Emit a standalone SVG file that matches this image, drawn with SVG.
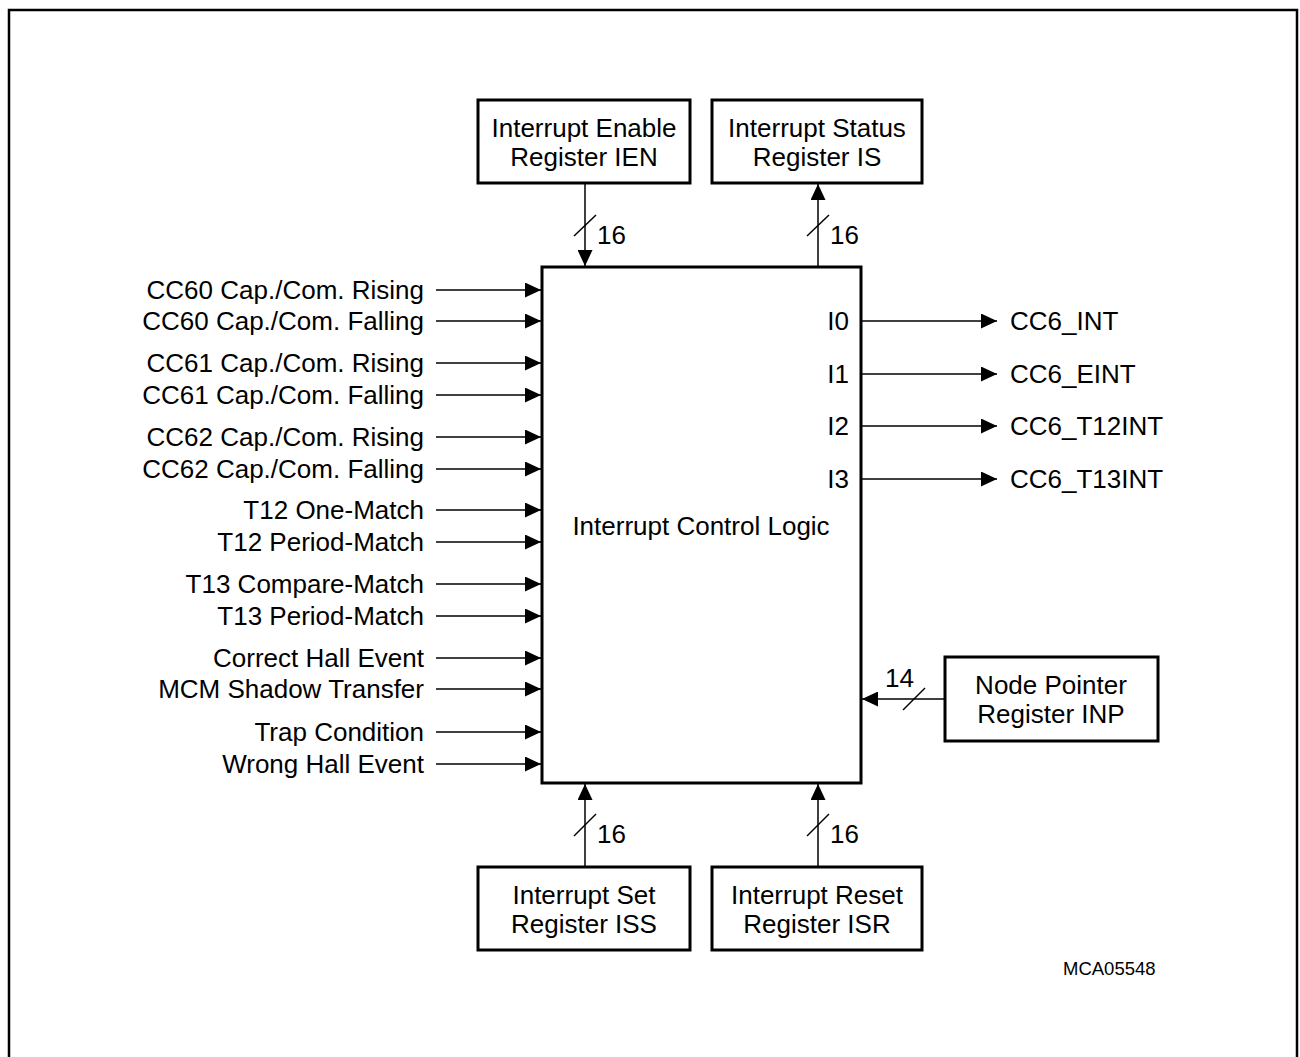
<svg xmlns="http://www.w3.org/2000/svg" width="1300" height="1057" viewBox="0 0 1300 1057">
<defs>
<marker id="ah" viewBox="0 0 16 15" refX="16" refY="7.5" markerWidth="16" markerHeight="15" markerUnits="userSpaceOnUse" orient="auto">
<path d="M0,0 L16,7.5 L0,15 Z" fill="#000"/>
</marker>
<style>
text{font-family:"Liberation Sans",Arial,sans-serif;font-size:26px;fill:#000}
.box{fill:#fff;stroke:#000;stroke-width:3}
.ln{stroke:#000;stroke-width:1.5;fill:none}
.arr{stroke:#000;stroke-width:1.5;fill:none;marker-end:url(#ah)}
.r{text-anchor:end}
.m{text-anchor:middle}
.s{font-size:18.5px}
</style>
</defs>
<rect x="9" y="10" width="1288" height="1060" fill="none" stroke="#000" stroke-width="2.5"/>

<g id="connectors">
<line class="arr" x1="436" y1="290" x2="541" y2="290"/>
<line class="arr" x1="436" y1="321" x2="541" y2="321"/>
<line class="arr" x1="436" y1="363" x2="541" y2="363"/>
<line class="arr" x1="436" y1="395" x2="541" y2="395"/>
<line class="arr" x1="436" y1="437" x2="541" y2="437"/>
<line class="arr" x1="436" y1="469" x2="541" y2="469"/>
<line class="arr" x1="436" y1="510" x2="541" y2="510"/>
<line class="arr" x1="436" y1="542" x2="541" y2="542"/>
<line class="arr" x1="436" y1="584" x2="541" y2="584"/>
<line class="arr" x1="436" y1="616" x2="541" y2="616"/>
<line class="arr" x1="436" y1="658" x2="541" y2="658"/>
<line class="arr" x1="436" y1="689" x2="541" y2="689"/>
<line class="arr" x1="436" y1="732" x2="541" y2="732"/>
<line class="arr" x1="436" y1="764" x2="541" y2="764"/>

<line class="arr" x1="862" y1="321" x2="997" y2="321"/>
<line class="arr" x1="862" y1="374" x2="997" y2="374"/>
<line class="arr" x1="862" y1="426" x2="997" y2="426"/>
<line class="arr" x1="862" y1="479" x2="997" y2="479"/>

<line class="arr" x1="585" y1="183" x2="585" y2="266"/>
<line class="ln" x1="574" y1="236" x2="596" y2="215"/>
<line class="arr" x1="818" y1="266" x2="818" y2="184"/>
<line class="ln" x1="807" y1="236" x2="829" y2="215"/>

<line class="arr" x1="585" y1="867" x2="585" y2="784"/>
<line class="ln" x1="574" y1="836" x2="596" y2="814"/>
<line class="arr" x1="818" y1="867" x2="818" y2="784"/>
<line class="ln" x1="807" y1="836" x2="829" y2="814"/>

<line class="arr" x1="945" y1="699" x2="862" y2="699"/>
<line class="ln" x1="903" y1="710" x2="925" y2="688"/>

<text x="597" y="244">16</text>
<text x="830" y="244">16</text>
<text x="597" y="843">16</text>
<text x="830" y="843">16</text>
<text x="885" y="687">14</text>
</g>

<g id="main">
<rect class="box" x="542" y="267" width="319" height="516"/>
<text class="m" x="701" y="535">Interrupt Control Logic</text>
<text class="r" x="849" y="330">I0</text>
<text class="r" x="849" y="383">I1</text>
<text class="r" x="849" y="435">I2</text>
<text class="r" x="849" y="488">I3</text>
</g>

<g id="ien">
<rect class="box" x="478" y="100" width="212" height="83"/>
<text class="m" x="584" y="137">Interrupt Enable</text>
<text class="m" x="584" y="166">Register IEN</text>
</g>
<g id="is">
<rect class="box" x="712" y="100" width="210" height="83"/>
<text class="m" x="817" y="137">Interrupt Status</text>
<text class="m" x="817" y="166">Register IS</text>
</g>
<g id="iss">
<rect class="box" x="478" y="867" width="212" height="83"/>
<text class="m" x="584" y="904">Interrupt Set</text>
<text class="m" x="584" y="933">Register ISS</text>
</g>
<g id="isr">
<rect class="box" x="712" y="867" width="210" height="83"/>
<text class="m" x="817" y="904">Interrupt Reset</text>
<text class="m" x="817" y="933">Register ISR</text>
</g>
<g id="inp">
<rect class="box" x="945" y="657" width="213" height="84"/>
<text class="m" x="1051" y="694">Node Pointer</text>
<text class="m" x="1051" y="723">Register INP</text>
</g>

<g id="inputs">
<text class="r" x="424" y="299">CC60 Cap./Com. Rising</text>
<text class="r" x="424" y="330">CC60 Cap./Com. Falling</text>
<text class="r" x="424" y="372">CC61 Cap./Com. Rising</text>
<text class="r" x="424" y="404">CC61 Cap./Com. Falling</text>
<text class="r" x="424" y="446">CC62 Cap./Com. Rising</text>
<text class="r" x="424" y="478">CC62 Cap./Com. Falling</text>
<text class="r" x="424" y="519">T12 One-Match</text>
<text class="r" x="424" y="551">T12 Period-Match</text>
<text class="r" x="424" y="593">T13 Compare-Match</text>
<text class="r" x="424" y="625">T13 Period-Match</text>
<text class="r" x="424" y="667">Correct Hall Event</text>
<text class="r" x="424" y="698">MCM Shadow Transfer</text>
<text class="r" x="424" y="741">Trap Condition</text>
<text class="r" x="424" y="773">Wrong Hall Event</text>
</g>

<g id="outputs">
<text x="1010" y="330">CC6_INT</text>
<text x="1010" y="383">CC6_EINT</text>
<text x="1010" y="435">CC6_T12INT</text>
<text x="1010" y="488">CC6_T13INT</text>
</g>

<text class="s" x="1063" y="975">MCA05548</text>
</svg>
